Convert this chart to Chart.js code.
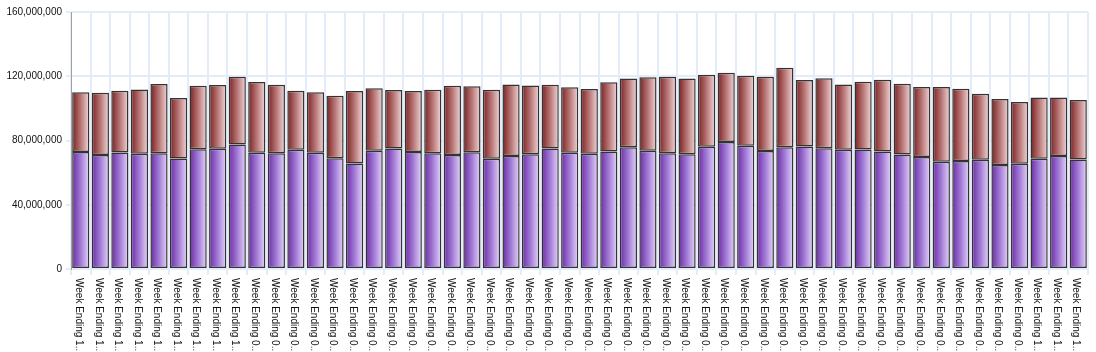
<!DOCTYPE html>
<html>
<head>
<meta charset="utf-8">
<script src="https://cdn.jsdelivr.net/npm/chart.js@4.4.1/dist/chart.umd.min.js"></script>
<style>
  html, body { margin: 0; padding: 0; background: #fff; }
  #wrap { width: 1096px; height: 352px; }
</style>
</head>
<body>
<div id="wrap"><canvas id="chart"></canvas></div>
<script>
// categories (labels are cut short on the axis, like the original)
const weekEnding = [
  '10/30/2011', '11/06/2011', '11/13/2011', '11/20/2011', '11/27/2011', '12/04/2011',
  '12/11/2011', '12/18/2011', '12/25/2011', '01/01/2012', '01/08/2012', '01/15/2012',
  '01/22/2012', '01/29/2012', '02/05/2012', '02/12/2012', '02/19/2012', '02/26/2012',
  '03/04/2012', '03/11/2012', '03/18/2012', '03/25/2012', '04/01/2012', '04/08/2012',
  '04/15/2012', '04/22/2012', '04/29/2012', '05/06/2012', '05/13/2012', '05/20/2012',
  '05/27/2012', '06/03/2012', '06/10/2012', '06/17/2012', '06/24/2012', '07/01/2012',
  '07/08/2012', '07/15/2012', '07/22/2012', '07/29/2012', '08/05/2012', '08/12/2012',
  '08/19/2012', '08/26/2012', '09/02/2012', '09/09/2012', '09/16/2012', '09/23/2012',
  '09/30/2012', '10/07/2012', '10/14/2012', '10/21/2012'
].map(d => 'Week Ending ' + d);

// bottom (purple) segment
const lowerValues = [
  72900000, 70900000, 72600000, 71700000, 72100000, 68800000, 74600000, 74800000,
  77500000, 72300000, 72100000, 74200000, 72300000, 69000000, 65700000, 73600000,
  75000000, 72900000, 72100000, 70900000, 72700000, 68600000, 70300000, 71500000,
  75000000, 72300000, 71700000, 73200000, 75800000, 73600000, 72100000, 71500000,
  76100000, 79000000, 76700000, 73400000, 75800000, 76300000, 75200000, 74200000,
  74400000, 73200000, 71300000, 69800000, 66700000, 67200000, 68000000, 64700000,
  65500000, 68600000, 70300000, 68200000
];

// top (maroon) segment
const upperValues = [
  37100000, 38900000, 38400000, 40100000, 43000000, 37600000, 39500000, 39700000,
  42200000, 44100000, 42600000, 36800000, 37700000, 38900000, 45100000, 39000000,
  36400000, 37900000, 39500000, 43200000, 41000000, 43000000, 44600000, 42800000,
  39700000, 40800000, 40300000, 43000000, 42800000, 45700000, 47600000, 47100000,
  44800000, 43200000, 43600000, 46300000, 49500000, 41300000, 43600000, 40700000,
  42200000, 44600000, 44100000, 43500000, 46600000, 45000000, 41100000, 41100000,
  38500000, 38100000, 36400000, 37000000
];

const yTicks = [0, 40000000, 80000000, 120000000, 160000000];

const BAR_FRACTION = 0.88;
const gridBlue = '#e3ecf8';

// horizontal gradient per bar: dark on the left, pale on the right
function barGradient(stops) {
  return (ctx) => {
    const chart = ctx.chart;
    const x = chart.scales && chart.scales.x;
    if (!x || ctx.type !== 'data') return stops[1];
    const cx = x.getPixelForValue(ctx.dataIndex);
    const half = (x.width / weekEnding.length) * BAR_FRACTION / 2;
    if (!Number.isFinite(cx) || !Number.isFinite(half) || half <= 0) return stops[1];
    const g = chart.ctx.createLinearGradient(cx - half, 0, cx + half, 0);
    g.addColorStop(0, stops[0]);
    g.addColorStop(0.5, stops[1]);
    g.addColorStop(1, stops[2]);
    return g;
  };
}

function shorten(label) {
  return label.length > 13 ? label.slice(0, 13) + '...' : label;
}

// x labels read top to bottom, which Chart.js's own rotation can't do
const rotatedLabels = {
  id: 'rotatedLabels',
  afterDraw(chart) {
    const { ctx } = chart;
    const x = chart.scales.x;
    ctx.save();
    ctx.font = '10px "Liberation Sans", Arial, sans-serif';
    ctx.fillStyle = '#111111';
    ctx.textAlign = 'left';
    ctx.textBaseline = 'middle';
    weekEnding.forEach((label, i) => {
      const px = x.getPixelForValue(i);
      ctx.save();
      ctx.translate(px - 2, x.top + 9);
      ctx.rotate(Math.PI / 2);
      ctx.fillText(shorten(label), 0, 0);
      ctx.restore();
    });
    ctx.restore();
  }
};

new Chart(document.getElementById('chart'), {
  type: 'bar',
  data: {
    labels: weekEnding,
    datasets: [
      {
        label: 'Lower',
        data: lowerValues,
        backgroundColor: barGradient(['#6a2aa3', '#a27bd6', '#e4d5f8']),
        borderColor: '#333333',
        borderWidth: 1.5,
        borderSkipped: false,
      },
      {
        label: 'Upper',
        data: upperValues,
        backgroundColor: barGradient(['#782020', '#b87676', '#f0d8d8']),
        borderColor: '#333333',
        borderWidth: 1.5,
        borderSkipped: false,
      }
    ]
  },
  options: {
    responsive: true,
    maintainAspectRatio: false,
    animation: false,
    devicePixelRatio: 1,
    layout: { padding: { top: 12, right: 8, left: 0, bottom: 0 } },
    plugins: {
      legend: { display: false },
      tooltip: { enabled: false },
    },
    datasets: {
      bar: { categoryPercentage: 1, barPercentage: BAR_FRACTION }
    },
    scales: {
      x: {
        stacked: true,
        ticks: { display: false },
        grid: { color: gridBlue, lineWidth: 2, tickLength: 6, offset: true },
        border: { color: gridBlue, width: 1 },
        afterFit(scale) { scale.height = 83; },
      },
      y: {
        stacked: true,
        min: 0,
        max: 160000000,
        afterBuildTicks(scale) { scale.ticks = yTicks.map(v => ({ value: v })); },
        ticks: {
          padding: 4,
          color: '#111111',
          font: { family: '"Liberation Sans", Arial, sans-serif', size: 10 },
          callback: v => v.toLocaleString('en-US'),
        },
        grid: { color: gridBlue, lineWidth: 2, tickLength: 5 },
        border: { color: '#a0a0a0', width: 1 },
        afterFit(scale) { scale.width = 71; },
      }
    }
  },
  plugins: [rotatedLabels]
});
</script>
</body>
</html>
